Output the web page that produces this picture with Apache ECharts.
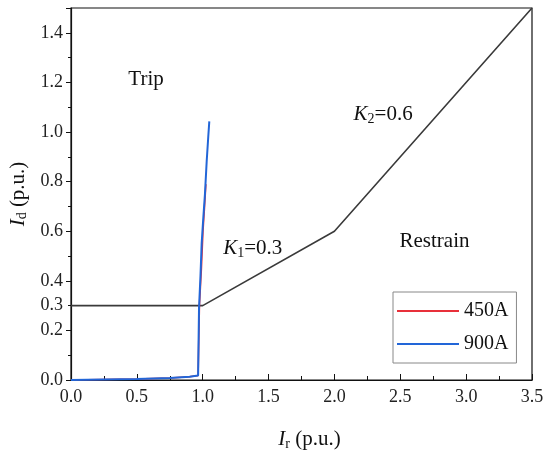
<!DOCTYPE html>
<html lang="en">
<head>
    <meta charset="UTF-8">
    <title>Differential characteristic</title>
    <script src="https://cdn.jsdelivr.net/npm/echarts@6/dist/echarts.min.js"></script>
    <style>
        html, body { margin: 0; padding: 0; background: #fff; }
        #main { width: 550px; height: 462px; }
    </style>
</head>
<body>
    <div id="main"></div>
    <script>
        var FONT = 'Liberation Serif';

        // restraint characteristic (Ir, Id)
        var charPoints = [[0, 0.3], [1.0, 0.3], [2.0, 0.6], [3.5, 1.5]];
        // fault trajectories (Ir, Id)
        var traj450 = [[0, 0], [0.25, 0.002], [0.5, 0.004], [0.75, 0.008], [0.9, 0.013], [0.965, 0.018],
            [0.97, 0.02], [0.975, 0.3], [0.99, 0.45], [1.002, 0.6], [1.014, 0.7], [1.024, 0.79]];
        var traj900 = [[0, 0], [0.25, 0.002], [0.5, 0.004], [0.75, 0.008], [0.9, 0.013], [0.965, 0.018],
            [0.97, 0.02], [0.972, 0.29], [0.983, 0.42], [0.992, 0.55], [1.004, 0.65], [1.017, 0.75],
            [1.03, 0.88], [1.042, 0.98], [1.05, 1.043]];
        // text annotations: [Ir, Id, text]
        var notes = [
            [0.57, 1.21, '{t|Trip}'],
            [2.76, 0.56, '{t|Restrain}'],
            [1.38, 0.53, '{k|K}{s|1}{t|=0.3}'],
            [2.37, 1.07, '{k|K}{s|2}{t|=0.6}']
        ];

        var rich = {
            t: { fontFamily: FONT, fontSize: 21, color: '#111' },
            k: { fontFamily: FONT, fontSize: 21, fontStyle: 'italic', color: '#111' },
            s: { fontFamily: FONT, fontSize: 14, color: '#111', padding: [9, 0, 0, 0] }
        };

        var tickLabel = function (v) { return v.toFixed(1); };

        var myChart = echarts.init(document.getElementById('main'));
        var option = {
            backgroundColor: '#fff',
            animation: false,
            grid: {
                left: 71, right: 18, top: 8, bottom: 82,
                outerBoundsMode: 'none',
                show: true, borderColor: '#111', borderWidth: 1.2
            },
            legend: {
                data: ['450A', '900A'],
                orient: 'vertical',
                left: 393, top: 292,
                padding: [9, 8, 9, 4],
                itemGap: 13,
                itemWidth: 62, itemHeight: 2,
                icon: 'rect',
                borderColor: '#888', borderWidth: 1,
                textStyle: { fontFamily: FONT, fontSize: 20, color: '#111' }
            },
            xAxis: {
                type: 'value', min: 0, max: 3.5, interval: 0.5,
                name: '{k|I}{s|r}{t| (p.u.)}',
                nameLocation: 'middle', nameGap: 48,
                nameTextStyle: { rich: rich, padding: [0, 0, 0, 16] },
                axisLine: { lineStyle: { color: '#111', width: 1.2 } },
                axisTick: { inside: true, length: 6, lineStyle: { color: '#111' } },
                minorTick: { show: true, splitNumber: 2, length: 4, lineStyle: { color: '#111' } },
                splitLine: { show: false },
                axisLabel: { fontFamily: FONT, fontSize: 18, color: '#222', margin: 8, formatter: tickLabel }
            },
            yAxis: [{
                type: 'value', min: 0, max: 1.5, interval: 0.2,
                name: '{k|I}{s|d}{t| (p.u.)}',
                nameLocation: 'middle', nameGap: 41,
                nameTextStyle: { rich: rich },
                axisLine: { lineStyle: { color: '#111', width: 1.2 } },
                axisTick: { length: 5, lineStyle: { color: '#111' } },
                minorTick: { show: true, splitNumber: 2, length: 3, lineStyle: { color: '#111' } },
                splitLine: { show: false },
                axisLabel: { fontFamily: FONT, fontSize: 18, color: '#222', margin: 8, showMaxLabel: false, formatter: tickLabel }
            }, {
                type: 'value', min: 0, max: 1.5, interval: 0.3,
                position: 'left',
                axisLine: { show: false },
                axisTick: { show: false },
                splitLine: { show: false },
                axisLabel: {
                    fontFamily: FONT, fontSize: 18, color: '#222', margin: 8,
                    formatter: function (v) { return Math.abs(v - 0.3) < 1e-6 ? '0.3' : ''; }
                }
            }],
            series: [{
                name: 'characteristic',
                type: 'line',
                data: charPoints,
                symbol: 'none',
                lineStyle: { color: '#3a3a3a', width: 1.6 },
                markPoint: {
                    symbol: 'circle',
                    symbolSize: 1,
                    itemStyle: { color: 'rgba(0,0,0,0)' },
                    label: {
                        show: true,
                        position: 'inside',
                        formatter: function (p) { return p.data.text; },
                        rich: rich
                    },
                    data: notes.map(function (n) {
                        return { coord: [n[0], n[1]], text: n[2] };
                    })
                }
            }, {
                name: '450A',
                type: 'line',
                data: traj450,
                symbol: 'none',
                color: '#e8303a',
                lineStyle: { color: '#e8303a', width: 1.6 }
            }, {
                name: '900A',
                type: 'line',
                data: traj900,
                symbol: 'none',
                color: '#2266d8',
                lineStyle: { color: '#2266d8', width: 2 }
            }]
        };
        myChart.setOption(option);
    </script>
</body>
</html>
